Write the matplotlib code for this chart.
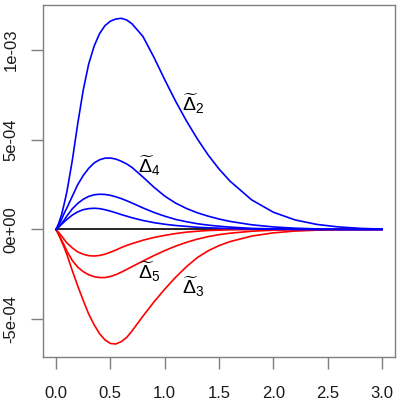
import matplotlib
matplotlib.use("Agg")
import numpy as np
from matplotlib import pyplot as plt

plt.rcParams['font.family'] = ['Liberation Sans', 'DejaVu Sans']
plt.rcParams['mathtext.fontset'] = 'custom'
plt.rcParams['mathtext.rm'] = 'Liberation Sans'
plt.rcParams['mathtext.it'] = 'Liberation Sans:italic'

# time grid
t = [0, 0.025, 0.05, 0.075, 0.1, 0.15, 0.2, 0.25, 0.3, 0.35, 0.4, 0.45, 0.5,
     0.55, 0.6, 0.65, 0.7, 0.8, 0.9, 1.0, 1.1, 1.2, 1.3, 1.4, 1.5, 1.6,
     1.8, 2.0, 2.2, 2.4, 2.6, 2.8, 3.0]

# curve values, in units of 1e-4
delta2 = [0, 0.35, 0.8, 1.42, 2.1, 3.85, 5.9, 7.75, 9.2, 10.2, 10.9, 11.35, 11.6,
          11.72, 11.76, 11.67, 11.45, 10.75, 9.6, 8.35, 7.15, 6.05, 5.05, 4.15, 3.37, 2.7,
          1.65, 0.96, 0.53, 0.28, 0.14, 0.06, 0.02]
delta4 = [0, 0.25, 0.55, 0.9, 1.2, 1.85, 2.5, 3.0, 3.4, 3.7, 3.88, 3.97, 3.98,
          3.92, 3.8, 3.65, 3.45, 2.92, 2.36, 1.86, 1.47, 1.17, 0.93, 0.74, 0.58, 0.45,
          0.26, 0.14, 0.07, 0.03, 0.01, 0, 0]
delta6 = [0, 0.15, 0.33, 0.52, 0.75, 1.15, 1.45, 1.68, 1.84, 1.93, 1.96, 1.95, 1.9,
          1.82, 1.72, 1.6, 1.47, 1.2, 0.95, 0.74, 0.56, 0.43, 0.32, 0.24, 0.18, 0.13,
          0.06, 0.03, 0.01, 0, 0, 0, 0]
delta8 = [0, 0.13, 0.28, 0.42, 0.56, 0.8, 0.98, 1.1, 1.16, 1.18, 1.16, 1.1, 1.02,
          0.93, 0.83, 0.74, 0.65, 0.5, 0.38, 0.29, 0.22, 0.17, 0.12, 0.09, 0.07, 0.05,
          0.02, 0.01, 0, 0, 0, 0, 0]
delta3 = [0, -0.3, -0.65, -1.0, -1.4, -2.3, -3.15, -3.95, -4.7, -5.3, -5.8, -6.15, -6.35,
          -6.38, -6.25, -6.02, -5.65, -4.83, -4.05, -3.33, -2.67, -2.08, -1.57, -1.19, -0.9, -0.68,
          -0.37, -0.19, -0.09, -0.04, -0.015, -0.005, 0]
delta5 = [0, -0.28, -0.58, -0.88, -1.2, -1.73, -2.1, -2.35, -2.52, -2.63, -2.68, -2.68, -2.62,
          -2.52, -2.38, -2.23, -2.07, -1.76, -1.46, -1.18, -0.93, -0.72, -0.54, -0.4, -0.29, -0.21,
          -0.1, -0.04, -0.015, -0.005, 0, 0, 0]
delta7 = [0, -0.17, -0.36, -0.56, -0.75, -1.03, -1.25, -1.38, -1.46, -1.48, -1.45, -1.38, -1.27,
          -1.15, -1.01, -0.89, -0.79, -0.6, -0.45, -0.33, -0.23, -0.15, -0.1, -0.06, -0.04, -0.02,
          -0.01, 0, 0, 0, 0, 0, 0]

blue_curves = [delta2, delta4, delta6, delta8]
red_curves = [delta3, delta5, delta7]

# labels: (text, t, value in 1e-4)
labels = [(r'$\widetilde{\Delta}_2$', 1.26, 7.0),
          (r'$\widetilde{\Delta}_4$', 0.86, 3.55),
          (r'$\widetilde{\Delta}_5$', 0.86, -2.35),
          (r'$\widetilde{\Delta}_3$', 1.26, -3.2)]

y_ticks = [-5e-4, 0, 5e-4, 1e-3]
y_tick_labels = ['-5e-04', '0e+00', '5e-04', '1e-03']
x_ticks = [0.0, 0.5, 1.0, 1.5, 2.0, 2.5, 3.0]
x_tick_labels = ['0.0', '0.5', '1.0', '1.5', '2.0', '2.5', '3.0']

t = np.array(t)
scale = 1e-4

fig = plt.figure(figsize=(4.01, 4.01), dpi=100)
ax = fig.add_axes([0.1072, 0.1097, 0.985 - 0.1072, 0.9868 - 0.1097])

ax.plot(t, np.zeros_like(t), color='black', lw=1.2)
for c in red_curves:
    ax.plot(t, np.array(c) * scale, color='#FF0000', lw=1.2)
for c in blue_curves:
    ax.plot(t, np.array(c) * scale, color='#0000FF', lw=1.2)

for txt, x, y in labels:
    ax.text(x, y * scale, txt, ha='center', va='center', fontsize=14, color='black')

# R-style 4% padding
allv = np.concatenate([np.array(c) for c in blue_curves + red_curves]) * scale
rng = allv.max() - allv.min()
ax.set_ylim(allv.min() - 0.04 * rng, allv.max() + 0.04 * rng)
ax.set_xlim(-0.04 * 3, 3 + 0.04 * 3)

ax.set_xticks(x_ticks)
ax.set_xticklabels(x_tick_labels)
ax.set_yticks(y_ticks)
ax.set_yticklabels(y_tick_labels, rotation=90, va='center')

for spine in ax.spines.values():
    spine.set_color('#7f7f7f')
    spine.set_linewidth(1.0)
ax.tick_params(axis='both', length=8.6, width=1.0, color='#7f7f7f',
               labelsize=12, labelcolor='#1a1a1a')
ax.tick_params(axis='x', pad=12)
ax.tick_params(axis='y', pad=9)

fig.savefig('out.png', dpi=100)
